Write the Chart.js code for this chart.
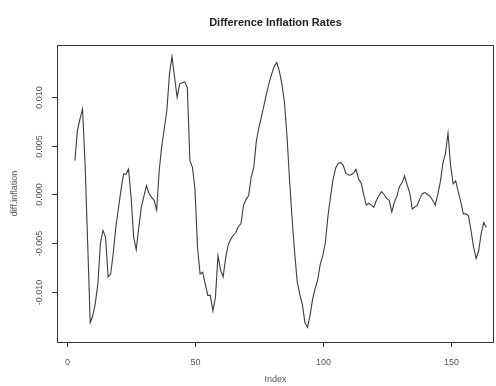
<!DOCTYPE html>
<html>
<head>
<meta charset="utf-8">
<script src="https://cdn.jsdelivr.net/npm/chart.js@4.4.0/dist/chart.umd.min.js"></script>
<style>
  html, body { margin: 0; padding: 0; background: #fff; }
  #wrap { width: 496px; height: 386px; }
</style>
</head>
<body>
<div id="wrap"><canvas id="chart" width="496" height="386"></canvas></div>
<script>
// differenced inflation series, first value sits at index 3
const startIndex = 3;
const diffInflation = [
  0.0035, 0.0066, 0.0078, 0.0088, 0.0030, -0.0050, -0.0132, -0.0125, -0.0112, -0.0092,
  -0.0050, -0.0037, -0.0044, -0.0085, -0.0082, -0.0061, -0.0034, -0.0015, 0.0004, 0.0021,
  0.0021, 0.0026, -0.0003, -0.0044, -0.0057, -0.0034, -0.0013, -0.0002, 0.0009, 0.0001,
  -0.0003, -0.0006, -0.0016, 0.0025, 0.0050, 0.0068, 0.0087, 0.0124, 0.0142, 0.0121,
  0.0100, 0.0114, 0.0115, 0.0116, 0.0110, 0.0035, 0.0028, 0.0005, -0.0055, -0.0082,
  -0.0080, -0.0092, -0.0104, -0.0104, -0.0120, -0.0106, -0.0063, -0.0078, -0.0085, -0.0065,
  -0.0052, -0.0046, -0.0042, -0.0039, -0.0033, -0.0030, -0.0011, -0.0005, -0.0001, 0.0018,
  0.0028, 0.0055, 0.0069, 0.0080, 0.0092, 0.0104, 0.0115, 0.0124, 0.0132, 0.0136,
  0.0127, 0.0114, 0.0095, 0.0060, 0.0015, -0.0025, -0.0060, -0.0090, -0.0103, -0.0113,
  -0.0132, -0.0137, -0.0125, -0.0108, -0.0097, -0.0088, -0.0072, -0.0063, -0.0050, -0.0023,
  -0.0003, 0.0015, 0.0027, 0.0032, 0.0033, 0.0030, 0.0022, 0.0020, 0.0020, 0.0022,
  0.0026, 0.0016, 0.0012, 0.0000, -0.0011, -0.0009, -0.0011, -0.0013, -0.0006, -0.0001,
  0.0003, 0.0000, -0.0004, -0.0006, -0.0018, -0.0008, -0.0002, 0.0008, 0.0012, 0.0019,
  0.0010, 0.0002, -0.0015, -0.0013, -0.0011, -0.0004, 0.0001, 0.0002, 0.0000, -0.0002,
  -0.0006, -0.0011, 0.0000, 0.0013, 0.0032, 0.0042, 0.0063, 0.0030, 0.0011, 0.0014,
  0.0003, -0.0008, -0.0020, -0.0020, -0.0022, -0.0037, -0.0054, -0.0066, -0.0058, -0.0040,
  -0.0029, -0.0034
];
const xTicks = [0, 50, 100, 150];
const yTicks = [-0.010, -0.005, 0.000, 0.005, 0.010];
const yTickLabels = ["-0.010", "-0.005", "0.000", "0.005", "0.010"];

const points = diffInflation.map((v, i) => ({ x: startIndex + i, y: v }));

// R-style frame, tick marks and labels drawn from the scales
const rFrame = {
  id: "rFrame",
  afterDraw(chart) {
    const { ctx, chartArea: a, scales: { x, y } } = chart;
    ctx.save();
    ctx.strokeStyle = "#333";
    ctx.lineWidth = 1;
    ctx.strokeRect(a.left + 0.5, a.top + 0.5, a.right - a.left - 1, a.bottom - a.top);

    ctx.fillStyle = "#555";
    ctx.font = "9px 'Liberation Sans', Arial, sans-serif";
    ctx.textAlign = "center";
    ctx.textBaseline = "middle";
    xTicks.forEach(t => {
      const px = Math.round(x.getPixelForValue(t)) + 0.5;
      ctx.beginPath();
      ctx.moveTo(px, a.bottom);
      ctx.lineTo(px, a.bottom + 5);
      ctx.stroke();
      ctx.fillText(String(t), px, a.bottom + 21);
    });
    yTicks.forEach((t, i) => {
      const py = Math.round(y.getPixelForValue(t)) + 0.5;
      ctx.beginPath();
      ctx.moveTo(a.left, py);
      ctx.lineTo(a.left - 5, py);
      ctx.stroke();
      ctx.save();
      ctx.translate(a.left - 17, py);
      ctx.rotate(-Math.PI / 2);
      ctx.fillText(yTickLabels[i], 0, 0);
      ctx.restore();
    });

    // axis titles
    ctx.fillText("Index", (a.left + a.right) / 2, a.bottom + 38);
    ctx.save();
    ctx.translate(15, (a.top + a.bottom) / 2);
    ctx.rotate(-Math.PI / 2);
    ctx.fillText("diff.inflation", 0, 0);
    ctx.restore();

    // main title
    ctx.fillStyle = "#222";
    ctx.font = "bold 11px 'Liberation Sans', Arial, sans-serif";
    ctx.fillText("Difference Inflation Rates", (a.left + a.right) / 2, 23);
    ctx.restore();
  }
};

new Chart(document.getElementById("chart"), {
  type: "line",
  data: {
    datasets: [{
      data: points,
      borderColor: "#3c3c3c",
      borderWidth: 1.1,
      pointRadius: 0,
      tension: 0,
      fill: false
    }]
  },
  options: {
    responsive: false,
    animation: false,
    layout: { padding: { left: 0, right: 2, top: 45, bottom: 0 } },
    plugins: { legend: { display: false }, tooltip: { enabled: false } },
    scales: {
      x: {
        type: "linear",
        min: -4,
        max: 167,
        grid: { display: false },
        border: { display: false },
        ticks: { display: false },
        afterFit(scale) { scale.height = 44; }
      },
      y: {
        min: -0.0152,
        max: 0.0154,
        grid: { display: false },
        border: { display: false },
        ticks: { display: false },
        afterFit(scale) { scale.width = 57; }
      }
    }
  },
  plugins: [rFrame]
});
</script>
</body>
</html>
